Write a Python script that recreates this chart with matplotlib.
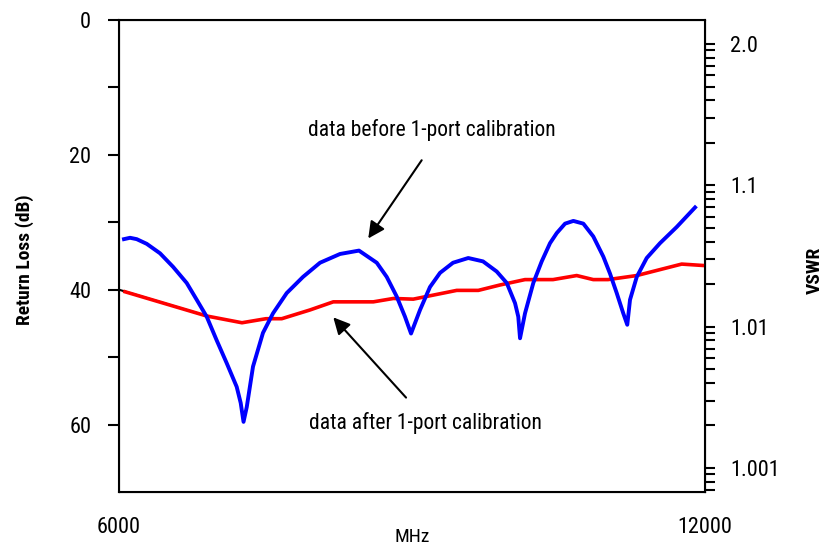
import numpy as np
import matplotlib
matplotlib.use("Agg")
import matplotlib.pyplot as plt

plt.rcParams["font.family"] = ["Roboto Condensed", "Archivo Narrow", "Liberation Sans", "DejaVu Sans"]

# return loss before calibration (MHz, dB)
before_mhz = [6051, 6113, 6181, 6284, 6420, 6553, 6693, 6796, 6898, 7000,
              7103, 7205, 7246, 7275, 7308, 7372, 7474, 7577, 7717, 7884,
              8058, 8263, 8457, 8639, 8741, 8843, 8928, 8990, 9082, 9184,
              9287, 9420, 9576, 9727, 9867, 9970, 10055, 10088, 10106, 10157,
              10242, 10328, 10413, 10482, 10567, 10652, 10754, 10856, 10959, 11027,
              11096, 11163, 11204, 11232, 11301, 11403, 11539, 11710, 11898]
before_db = [32.5, 32.3, 32.5, 33.2, 34.6, 36.6, 39.0, 41.5, 44.0, 47.5,
             50.9, 54.4, 56.8, 59.6, 57.4, 51.4, 46.4, 43.5, 40.5, 38.1,
             36.0, 34.7, 34.2, 36.0, 38.1, 41.0, 44.0, 46.5, 43.0, 39.6,
             37.5, 36.0, 35.3, 35.8, 37.3, 39.0, 42.0, 44.0, 47.2, 43.5,
             39.0, 35.8, 33.1, 31.6, 30.2, 29.8, 30.2, 32.1, 35.1, 37.6,
             40.5, 43.5, 45.2, 41.5, 38.1, 35.3, 33.1, 30.7, 27.8]

# return loss after calibration
after_mhz = [6061, 6898, 7259, 7505, 7666, 7956, 8194, 8604, 8809, 9013,
             9218, 9458, 9679, 9901, 10157, 10444, 10686, 10856, 11007, 11301,
             11761, 11972]
after_db = [40.3, 43.9, 44.9, 44.3, 44.3, 43.0, 41.8, 41.8, 41.3, 41.4,
            40.8, 40.1, 40.1, 39.3, 38.5, 38.5, 37.9, 38.5, 38.5, 37.9,
            36.2, 36.4]

# short reference segment at the left edge
ref_mhz = [6000, 6900]
ref_db = [40.0, 43.9]

rl_ticks = [0, 10, 20, 30, 40, 50, 60]
rl_labels = ["0", "", "20", "", "40", "", "60"]
vswr_ticks = [2.0, 1.1, 1.01, 1.001]
vswr_labels = ["2.0", "1.1", "1.01", "1.001"]

fig = plt.figure(figsize=(8.27, 5.46), dpi=100)
ax = fig.add_axes([0.1439, 0.0989, 0.7086, 0.8645])

ax.plot(ref_mhz, ref_db, color="black", lw=1.5, zorder=2)
ax.plot(after_mhz, after_db, color="#ff0000", lw=2.6, zorder=3,
        solid_joinstyle="round")
ax.plot(before_mhz, before_db, color="#0000ff", lw=2.8, zorder=4,
        solid_joinstyle="round")

ax.set_xlim(6000, 12000)
ax.set_ylim(70, 0)
ax.set_xticks([6000, 12000])
ax.set_xticklabels(["6000", "12000"])
ax.tick_params(axis="x", length=0, pad=18, labelsize=16)
ax.set_yticks(rl_ticks)
ax.set_yticklabels(rl_labels)
ax.tick_params(axis="y", length=8, width=1.5, pad=12, labelsize=16)
ax.yaxis.get_major_ticks()[0].tick1line.set_visible(False)
for s in ax.spines.values():
    s.set_linewidth(1.5)

ax.set_xlabel("MHz", fontsize=14, labelpad=-7)
fig.text(0.030, 0.525, "Return Loss (dB)", rotation=90, fontsize=14,
         fontweight="bold", ha="center", va="center")

# VSWR scale on the right, log of (VSWR - 1)
ax2 = ax.twinx()
ax2.set_yscale("log")
ax2.set_ylim(0.000676, 1.479)
ax2.set_yticks([v - 1 for v in vswr_ticks])
ax2.set_yticklabels(vswr_labels)
ax2.tick_params(axis="y", which="both", length=7, width=1.5, pad=11, labelsize=16)
ax2.yaxis.set_minor_formatter(plt.NullFormatter())
fig.text(0.985, 0.504, "VSWR", rotation=90, fontsize=14,
         fontweight="bold", ha="center", va="center")

ax.text(9205, 16.3, "data before 1-port calibration", fontsize=15.5,
        ha="center", va="center")
ax.annotate("", xy=(8552, 32.4), xytext=(9099, 20.8),
            arrowprops=dict(arrowstyle="-|>", color="black", lw=1.5,
                            mutation_scale=25, shrinkA=0, shrinkB=0))
ax.text(9133, 59.8, "data after 1-port calibration", fontsize=15.5,
        ha="center", va="center")
ax.annotate("", xy=(8194, 44.1), xytext=(8939, 56.0),
            arrowprops=dict(arrowstyle="-|>", color="black", lw=1.5,
                            mutation_scale=25, shrinkA=0, shrinkB=0))

fig.savefig("out.png", dpi=100)
